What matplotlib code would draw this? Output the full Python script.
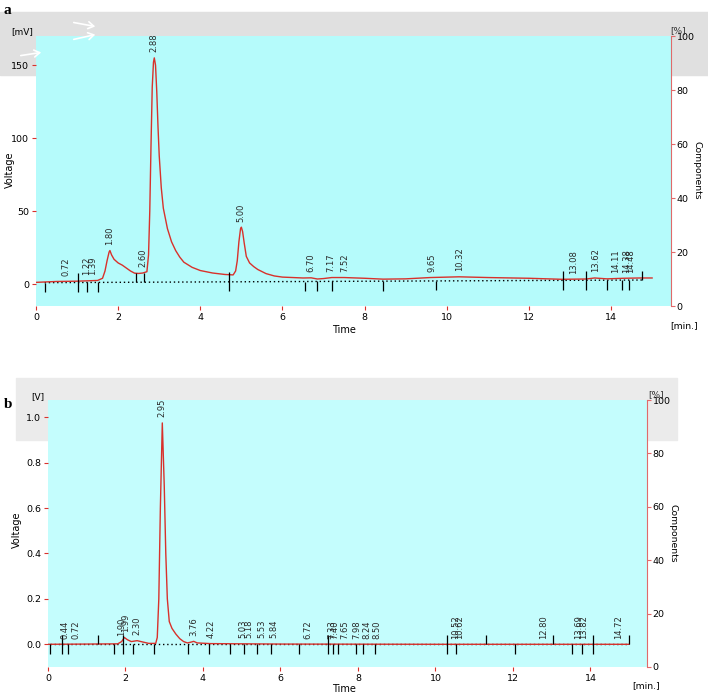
import numpy as np
import matplotlib
matplotlib.use("Agg")
import matplotlib.pyplot as plt
from matplotlib.patches import Rectangle

plt.rcParams['font.family'] = 'DejaVu Sans'

# --- panel a : trace in mV ---
a_t = [0.0, 0.5, 1.0, 1.2, 1.5, 1.62, 1.68, 1.73, 1.78, 1.80, 1.84, 1.9, 2.0, 2.1, 2.2,
       2.3, 2.4, 2.5, 2.6, 2.7, 2.74, 2.77, 2.80, 2.83, 2.86, 2.88, 2.91, 2.94, 2.97,
       3.0, 3.05, 3.1, 3.2, 3.3, 3.4, 3.5, 3.6, 3.8, 4.0, 4.3, 4.6, 4.8, 4.86, 4.9,
       4.94, 4.98, 5.0, 5.03, 5.07, 5.12, 5.2, 5.3, 5.4, 5.6, 5.8, 6.0, 6.5, 6.7, 6.85,
       7.0, 7.2, 7.5, 8.0, 8.45, 9.0, 9.6, 10.3, 11.0, 12.0, 12.8, 13.4, 13.6, 13.9,
       14.3, 14.7, 15.0]
a_v = [1.2, 1.8, 2.0, 2.2, 2.5, 4.0, 9.0, 16.0, 22.0, 23.0, 20.0, 17.0, 14.5, 13.0, 11.0,
       9.0, 7.5, 7.3, 7.6, 8.5, 20.0, 50.0, 95.0, 135.0, 152.0, 155.0, 150.0, 132.0, 108.0,
       88.0, 66.0, 52.0, 38.0, 29.0, 23.0, 18.5, 15.0, 11.5, 9.3, 7.6, 6.6, 6.3, 9.0, 16.0,
       29.0, 38.0, 39.0, 36.0, 28.0, 19.0, 14.5, 12.0, 10.0, 7.2, 5.6, 4.8, 4.2, 4.3, 3.5,
       3.8, 4.5, 4.5, 4.0, 3.4, 3.6, 4.5, 5.0, 4.5, 4.0, 3.3, 3.5, 4.2, 3.6,
       4.0, 4.2, 4.2]
a_base_t = [0.21, 14.75]
a_base_v = [1.0, 2.8]
a_peaks = [0.72, 1.22, 1.39, 1.80, 2.60, 2.88, 5.00, 6.70, 7.17, 7.52, 9.65, 10.32,
           13.08, 13.62, 14.11, 14.38, 14.48]
a_peak_labels = ["0.72", "1.22", "1.39", "1.80", "2.60", "2.88", "5.00", "6.70", "7.17",
                 "7.52", "9.65", "10.32", "13.08", "13.62", "14.11", "14.38", "14.48"]
a_marks_down = [0.21, 1.25, 1.52, 6.56, 6.85, 7.20, 8.45, 9.73, 13.90, 14.27, 14.43]
a_marks_both = [1.02, 4.69, 12.82, 13.40]
a_marks_up = [2.44, 2.64, 14.75]

# --- panel b : trace in V ---
b_t = [0.0, 1.0, 1.8, 1.9, 1.97, 2.05, 2.15, 2.3, 2.45, 2.6, 2.78, 2.82, 2.86, 2.90,
       2.95, 3.0, 3.04, 3.08, 3.13, 3.2, 3.3, 3.4, 3.5, 3.6, 3.7, 3.76, 3.85, 4.2, 6.0,
       10.0, 15.0]
b_v = [0.0, 0.001, 0.002, 0.012, 0.03, 0.02, 0.012, 0.016, 0.01, 0.004, 0.004, 0.03, 0.2,
       0.6, 0.975, 0.7, 0.4, 0.2, 0.1, 0.07, 0.045, 0.025, 0.012, 0.006, 0.01, 0.013, 0.006,
       0.003, 0.001, 0.0, 0.0]
b_base_t = [0.05, 14.99]
b_base_v = [0.0, 0.0]
b_peaks = [0.44, 0.72, 1.90, 1.99, 2.30, 2.95, 3.76, 4.22, 5.03, 5.18, 5.53, 5.84, 6.72,
           7.33, 7.40, 7.65, 7.98, 8.24, 8.50, 10.52, 10.62, 12.80, 13.69, 13.82, 14.72]
b_peak_labels = ["0.44", "0.72", "1.90", "1.99", "2.30", "2.95", "3.76", "4.22", "5.03",
                 "5.18", "5.53", "5.84", "6.72", "7.33", "7.40", "7.65", "7.98", "8.24",
                 "8.50", "10.52", "10.62", "12.80", "13.69", "13.82", "14.72"]
b_marks_down = [0.05, 0.52, 1.71, 2.19, 2.74, 3.62, 4.16, 4.70, 5.07, 5.39, 5.75, 6.48,
                7.36, 7.49, 7.94, 8.14, 8.44, 10.53, 12.05, 13.52, 13.77]
b_marks_both = [0.37, 1.93, 7.22, 10.29, 14.06]
b_marks_up = [1.30, 11.30, 13.04, 14.99]

W, H = 708, 696
RED = '#d8312b'
SPINE = '#e06a6a'

fig = plt.figure(figsize=(W / 100, H / 100), dpi=100)


def px_axes(x0, y0, x1, y1):
    return fig.add_axes([x0 / W, 1 - y1 / H, (x1 - x0) / W, (y1 - y0) / H])


def gray_band(x0, y0, x1, y1, color):
    fig.patches.append(Rectangle((x0 / W, 1 - y1 / H), (x1 - x0) / W, (y1 - y0) / H,
                                 transform=fig.transFigure, color=color, zorder=-5))


def panel(ax, bg, t, v, base_t, base_v, peaks, labels, mdown, mboth, mup,
          ylim, yticks, yfmt):
    ax.set_facecolor(bg)
    ax.set_xlim(0, 15.46)
    ax.set_ylim(*ylim)
    for s in ax.spines.values():
        s.set_visible(False)
    ax.plot(t, v, color=RED, lw=1.0, zorder=3)
    ax.plot(base_t, base_v, color='black', lw=1.0, ls=(0, (1, 2)), zorder=2)
    tick = 0.035 * (ylim[1] - ylim[0])
    for m in mdown:
        b0 = np.interp(m, base_t, base_v)
        ax.vlines(m, b0 - tick, b0, color='black', lw=0.9, zorder=4)
    for m in mboth:
        b0 = np.interp(m, base_t, base_v)
        ax.vlines(m, b0 - tick, b0 + tick, color='black', lw=0.9, zorder=4)
    for m in mup:
        b0 = np.interp(m, base_t, base_v)
        ax.vlines(m, b0, b0 + tick, color='black', lw=0.9, zorder=4)
    for p, lbl in zip(peaks, labels):
        ax.annotate(lbl, (p, np.interp(p, t, v)), xytext=(0, 4), textcoords='offset points',
                    rotation=90, ha='center', va='bottom', fontsize=6, color='#2a2a2a',
                    zorder=5)
    ax.set_xticks(np.arange(0, 15, 2))
    ax.set_yticks(yticks)
    ax.set_yticklabels([yfmt.format(y) for y in yticks])
    ax.tick_params(axis='both', colors=RED, labelcolor='black', labelsize=6.8,
                   length=3, width=0.8, pad=2)
    axr = ax.twinx()
    axr.set_ylim(0, 100)
    axr.set_yticks(np.arange(0, 101, 20))
    for k, s in axr.spines.items():
        s.set_visible(k == 'right')
    axr.spines['right'].set_color(SPINE)
    axr.tick_params(axis='y', colors=SPINE, labelcolor='black', labelsize=6.8,
                    length=3, width=0.8, pad=1)
    return axr


# panel a
gray_band(0, 12, 708, 75, '#e0e0e0')
ax1 = px_axes(36, 36, 671, 306)
panel(ax1, '#b5fbfb', a_t, a_v, a_base_t, a_base_v, a_peaks, a_peak_labels,
      a_marks_down, a_marks_both, a_marks_up, (-15, 170), [0, 50, 100, 150], "{:.0f}")

# panel b
gray_band(16, 378, 677, 440, '#ebebeb')
ax2 = px_axes(48, 400, 647, 667)
panel(ax2, '#c4fdfd', b_t, b_v, b_base_t, b_base_v, b_peaks, b_peak_labels,
      b_marks_down, b_marks_both, b_marks_up, (-0.10, 1.076),
      [0.0, 0.2, 0.4, 0.6, 0.8, 1.0], "{:.1f}")


def ftext(x, y, s, **kw):
    fig.text(x / W, 1 - y / H, s, **kw)


ftext(4, 10, "a", fontsize=11, fontweight='bold', family='Liberation Serif', va='center')
ftext(4, 404, "b", fontsize=11, fontweight='bold', family='Liberation Serif', va='center')
ftext(22, 32, "[mV]", fontsize=6.5, ha='center', va='center')
ftext(38, 397, "[V]", fontsize=6.5, ha='center', va='center')
ftext(678, 31, "[%]", fontsize=6.5, ha='center', va='center', color='#333333')
ftext(656, 395, "[%]", fontsize=6.5, ha='center', va='center', color='#333333')
ftext(10, 170, "Voltage", fontsize=7, rotation=90, ha='center', va='center')
ftext(17, 530, "Voltage", fontsize=7, rotation=90, ha='center', va='center')
ftext(697, 170, "Components", fontsize=6.7, rotation=-90, ha='center', va='center')
ftext(673, 533, "Components", fontsize=6.7, rotation=-90, ha='center', va='center')
ftext(344, 330, "Time", fontsize=7, ha='center', va='center')
ftext(344, 689, "Time", fontsize=7, ha='center', va='center')
ftext(684, 326, "[min.]", fontsize=6.7, ha='center', va='center')
ftext(646, 686, "[min.]", fontsize=6.7, ha='center', va='center')

# white arrows drawn on the gray band of panel a
for (x0, y0, x1, y1) in [(71, 22, 98, 27), (71, 40, 98, 34), (18, 56, 44, 52)]:
    fig.patches.append(matplotlib.patches.FancyArrowPatch(
        (x0 / W, 1 - y0 / H), (x1 / W, 1 - y1 / H), transform=fig.transFigure,
        arrowstyle='->,head_length=4,head_width=2.5', color='white', lw=1.2, zorder=10))

fig.savefig("out.png", dpi=100)
